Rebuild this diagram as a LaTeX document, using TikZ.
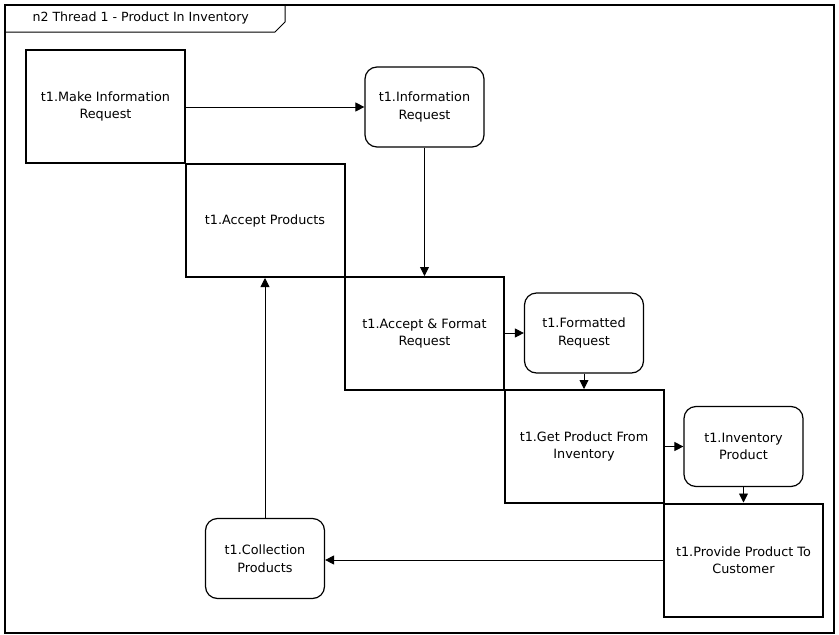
\documentclass[tikz,border=0pt]{standalone}
\usepackage{fontspec}
\setmainfont{DejaVu Sans}
\usepackage{tikz}
\usetikzlibrary{arrows.meta}
\tikzstyle{action} = [rectangle, draw=black, line width=2pt, minimum width=159pt, minimum height=113pt, align=center, font=\fontsize{12.8}{17.5}\selectfont]
\tikzstyle{object} = [rectangle, rounded corners=12pt, draw=black, line width=1.2pt, minimum width=119pt, minimum height=80pt, align=center, font=\fontsize{12.8}{17.5}\selectfont]
\tikzstyle{arrow} = [line width=0.9pt, -{Triangle[length=9pt,width=9pt]}]

\begin{document}
\begin{tikzpicture}[x=1pt, y=-1pt]
    \useasboundingbox (0,0) rectangle (839,635);
    % Frame and tab
    \draw[line width=1.3pt] (5,5) rectangle (834,633);
    \draw[line width=1pt] (5,32) -- (275,32) -- (285,22) -- (285,5);
    \node[anchor=west, font=\fontsize{12.6}{15}\selectfont] (title) at (29,18.5) {n2 Thread 1 - Product In Inventory};

    % Actions
    \node[action] (makereq) at (105.5, 106.5) {t1.Make Information\\Request};
    \node[action] (accprod) at (265, 220.5) {t1.Accept Products};
    \node[action] (accfmt) at (424.5, 333.5) {t1.Accept \& Format\\Request};
    \node[action] (getprod) at (584, 446.5) {t1.Get Product From\\Inventory};
    \node[action] (provide) at (743.5, 560) {t1.Provide Product To\\Customer};

    % Objects
    \node[object] (inforeq) at (424.5, 107) {t1.Information\\Request};
    \node[object] (fmtreq) at (584, 333) {t1.Formatted\\Request};
    \node[object] (invprod) at (743.5, 446.5) {t1.Inventory\\Product};
    \node[object] (collprod) at (265, 558.5) {t1.Collection\\Products};

    % Flow
    \draw[arrow] (makereq.east |- inforeq.west) -- (inforeq.west);
    \draw[arrow] (inforeq) -- (accfmt);
    \draw[arrow] (accfmt.east |- fmtreq.west) -- (fmtreq.west);
    \draw[arrow] (fmtreq) -- (getprod);
    \draw[arrow] (getprod.east |- invprod.west) -- (invprod.west);
    \draw[arrow] (invprod) -- (provide);
    \draw[arrow] (provide.west) -- (provide.west -| collprod.east);
    \draw[arrow] (collprod) -- (accprod);
\end{tikzpicture}
\end{document}
